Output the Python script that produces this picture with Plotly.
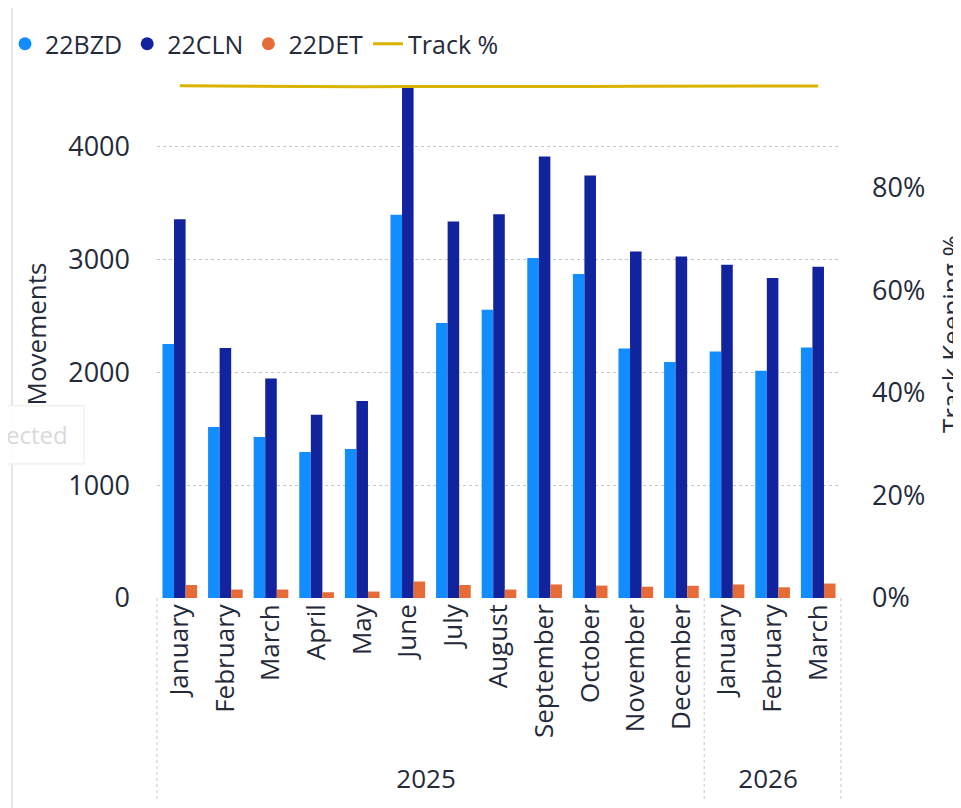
import plotly.graph_objects as go

# ---------------- data ----------------
years = ["2025"] * 12 + ["2026"] * 3
months = ["January", "February", "March", "April", "May", "June", "July", "August",
          "September", "October", "November", "December", "January", "February", "March"]
bzd = [2250, 1515, 1427, 1294, 1320, 3394, 2435, 2553, 3011, 2869, 2211, 2090, 2184, 2013, 2220]
cln = [3356, 2214, 1945, 1624, 1745, 4524, 3335, 3400, 3910, 3742, 3069, 3025, 2951, 2834, 2934]
det = [115, 75, 75, 51, 57, 146, 115, 75, 120, 110, 100, 108, 120, 95, 128]
track = [0.9995, 0.999, 0.998, 0.9975, 0.9975, 0.998, 0.998, 0.997, 0.9975, 0.998,
         0.9985, 0.9985, 0.9985, 0.999, 0.999]
left_ticks = [0, 1000, 2000, 3000, 4000]
right_ticks = [0, 0.2, 0.4, 0.6, 0.8]

C_BZD = "#118DFF"
C_CLN = "#12239E"
C_DET = "#E66C37"
C_TRACK = "#D9B300"
TXT = "#252a3a"
FONT = "Segoe UI, Open Sans, sans-serif"

x = [years, months]

fig = go.Figure()
for name, vals, col in [("22BZD", bzd, C_BZD), ("22CLN", cln, C_CLN), ("22DET", det, C_DET)]:
    fig.add_trace(go.Bar(x=x, y=vals, name=name, marker_color=col, marker_line_width=0,
                         legendgroup=name, showlegend=False))
    # legend proxy (circle marker like the original)
    fig.add_trace(go.Scatter(x=[[years[0]], [months[0]]], y=[None], mode="markers", name=name,
                             legendgroup=name, marker=dict(color=col, size=13, symbol="circle")))

fig.add_trace(go.Scatter(x=x, y=track, name="Track %", mode="lines", yaxis="y2",
                         line=dict(color=C_TRACK, width=3), cliponaxis=False))

# geometry (page pixels; the page body adds an 8px offset)
OFF = 8
W, H = 961, 808
PL, PR, PT, PB = 157, 841, 70, 598.5          # plot area on the page
L, T = PL - OFF, PT - OFF
R = W - (PR - OFF)
B = H - (PB - OFF)
PW = PR - PL
plot_h = PB - PT
px_per_1000 = 113.0
px_per_100pct = 513.0
ymax = plot_h / px_per_1000 * 1000
y2max = plot_h / px_per_100pct


def px_x(p):
    return (p - PL) / PW


def px_y(p):
    return (PB - p) / plot_h


n = len(months)
split = years.count("2025") / n

shapes = []
for xp in [0, split, 1]:
    shapes.append(dict(type="line", xref="paper", yref="paper", x0=xp, x1=xp, y0=0, y1=px_y(800),
                       line=dict(color="#c8c8c8", width=1, dash="dot")))
# faint visual border on the left
shapes.append(dict(type="line", xref="paper", yref="paper", x0=px_x(12), x1=px_x(12),
                   y0=px_y(810), y1=px_y(0), line=dict(color="#e3e6ea", width=2)))
# ghost tooltip box
shapes.append(dict(type="rect", xref="paper", yref="paper",
                   x0=px_x(-10), x1=px_x(84), y0=px_y(464), y1=px_y(406),
                   line=dict(color="#f3f3f3", width=2), fillcolor="rgba(255,255,255,0.9)"))

fig.update_layout(
    width=W, height=H,
    margin=dict(l=L, r=R, t=T, b=B, autoexpand=False),
    paper_bgcolor="white", plot_bgcolor="white",
    font=dict(family=FONT, color=TXT, size=26),
    barmode="group", bargap=0.24, bargroupgap=0,
    shapes=shapes,
    showlegend=True,
    legend=dict(orientation="h", x=px_x(5), xanchor="left",
                y=px_y(44), yanchor="middle",
                font=dict(size=25, color=TXT), itemwidth=30, tracegroupgap=0,
                bgcolor="rgba(0,0,0,0)"),
    xaxis=dict(type="multicategory", tickangle=-90, showdividers=False, ticks="",
               range=[-0.5, n - 0.5],
               showgrid=False, showline=False, automargin=False,
               tickfont=dict(size=26, color=TXT)),
    yaxis=dict(range=[0, ymax], tickvals=left_ticks, showgrid=True, gridcolor="#c8c8c8",
               griddash="dot", gridwidth=1, zeroline=False, showline=False, automargin=False,
               ticklabelstandoff=26, tickfont=dict(size=27, color=TXT),
               title=dict(text="Movements", font=dict(size=26, color=TXT), standoff=14)),
    yaxis2=dict(overlaying="y", side="right", range=[0, y2max], tickvals=right_ticks,
                tickformat=".0%", showgrid=False, zeroline=False, showline=False, automargin=False,
                ticklabelstandoff=30, tickfont=dict(size=27, color=TXT),
                title=dict(text="Track Keeping %", font=dict(size=26, color=TXT), standoff=18)),
    annotations=[dict(text="ected", xref="paper", yref="paper",
                      x=px_x(4), xanchor="left", y=px_y(435), yanchor="middle",
                      showarrow=False, font=dict(size=24, color="#d9d9d9"))],
)

fig.write_html("out.html")
